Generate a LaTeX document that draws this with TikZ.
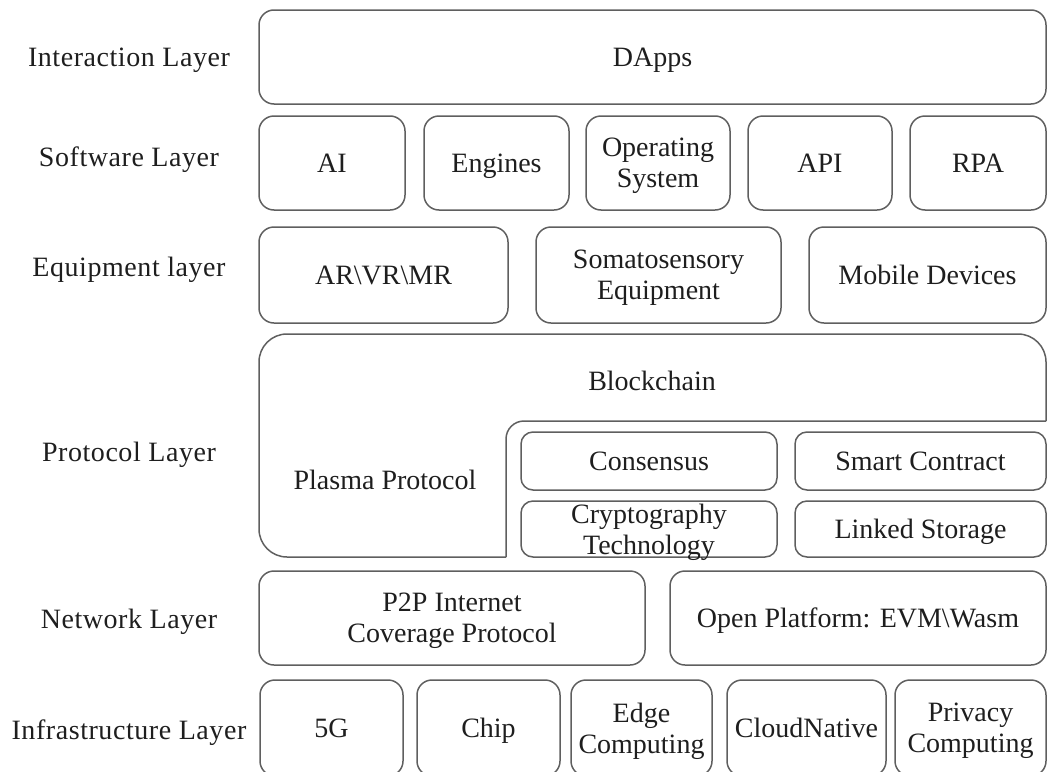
\documentclass[tikz,border=0pt]{standalone}
\usepackage{fontspec}
\setmainfont{Liberation Serif}
\newfontfamily\layerfont{Liberation Serif}[LetterSpace=2]
\definecolor{linegray}{RGB}{95,95,95}
\definecolor{inkblack}{RGB}{30,30,30}

\begin{document}
\begin{tikzpicture}[x=1pt, y=-1pt,
		every node/.style={text=inkblack, font=\fontsize{28}{31}\selectfont},
		layername/.style={font=\layerfont\fontsize{28}{31}\selectfont},
		outline/.style={draw=linegray, line width=1.5pt},
		layerbox/.style={outline, rounded corners=15pt, inner sep=0pt, align=center, text depth=0pt},
		innerbox/.style={layerbox, rounded corners=12pt}]
			\useasboundingbox (0,0) rectangle (1048,771);
			\clip (0,0) rectangle (1048,771);
			% Layer names
			\node (lblInteraction) [layername] at (129,60) {Interaction Layer};
			\node (lblSoftware) [layername] at (129,160) {Software Layer};
			\node (lblEquipment) [layername] at (129,270) {Equipment layer};
			\node (lblProtocol) [layername] at (129,455) {Protocol Layer};
			\node (lblNetwork) [layername] at (129,622) {Network Layer};
			\node (lblInfra) [layername] at (129,733) {Infrastructure Layer};
			% Interaction layer
			\node (dapps) [layerbox, minimum width=787pt, minimum height=94pt] at (652.5,57) {DApps};
			% Software layer
			\node (ai) [layerbox, minimum width=146pt, minimum height=94pt] at (332,163) {AI};
			\node (engines) [layerbox, minimum width=145pt, minimum height=94pt] at (496.5,163) {Engines};
			\node (os) [layerbox, minimum width=144pt, minimum height=94pt] at (658,163) {Operating\\System};
			\node (api) [layerbox, minimum width=144pt, minimum height=94pt] at (820,163) {API};
			\node (rpa) [layerbox, minimum width=136pt, minimum height=94pt] at (978,163) {RPA};
			% Equipment layer
			\node (arvr) [layerbox, minimum width=249pt, minimum height=96pt] at (383.5,275) {AR\textbackslash VR\textbackslash MR};
			\node (somato) [layerbox, minimum width=245pt, minimum height=96pt] at (658.5,275) {Somatosensory\\Equipment};
			\node (mobile) [layerbox, minimum width=237pt, minimum height=96pt] at (927.5,275) {Mobile Devices};
			% Protocol layer
			\draw[outline, rounded corners=28pt] (506,557) -- (259,557) -- (259,334) -- (1046,334) -- (1046,421);
			\draw[outline, rounded corners=18pt] (1046,421) -- (506,421) -- (506,557);
			\node (blockchain) at (652,381) {Blockchain};
			\node (plasma) at (385,480) {Plasma Protocol};
			\node (consensus) [innerbox, minimum width=256pt, minimum height=58pt] at (649,461) {Consensus};
			\node (contract) [innerbox, minimum width=251pt, minimum height=58pt] at (920.5,461) {Smart Contract};
			\node (crypto) [innerbox, minimum width=256pt, minimum height=56pt] at (649,529) {Cryptography\\Technology};
			\node (storage) [innerbox, minimum width=251pt, minimum height=56pt] at (920.5,529) {Linked Storage};
			% Network layer
			\node (p2p) [layerbox, minimum width=386pt, minimum height=94pt] at (452,618) {P2P Internet\\Coverage Protocol};
			\node (open) [layerbox, minimum width=376pt, minimum height=94pt] at (858,618) {Open Platform: EVM\textbackslash Wasm};
			% Infrastructure layer
			\node (fiveg) [layerbox, minimum width=143pt, minimum height=96pt] at (331.5,728) {5G};
			\node (chip) [layerbox, minimum width=143pt, minimum height=96pt] at (488.5,728) {Chip};
			\node (edge) [layerbox, minimum width=141pt, minimum height=96pt] at (641.5,728) {Edge\\Computing};
			\node (cloud) [layerbox, minimum width=159pt, minimum height=96pt] at (806.5,728) {CloudNative};
			\node (privacy) [layerbox, minimum width=151pt, minimum height=96pt] at (970.5,728) {Privacy\\Computing};
\end{tikzpicture}
\end{document}
